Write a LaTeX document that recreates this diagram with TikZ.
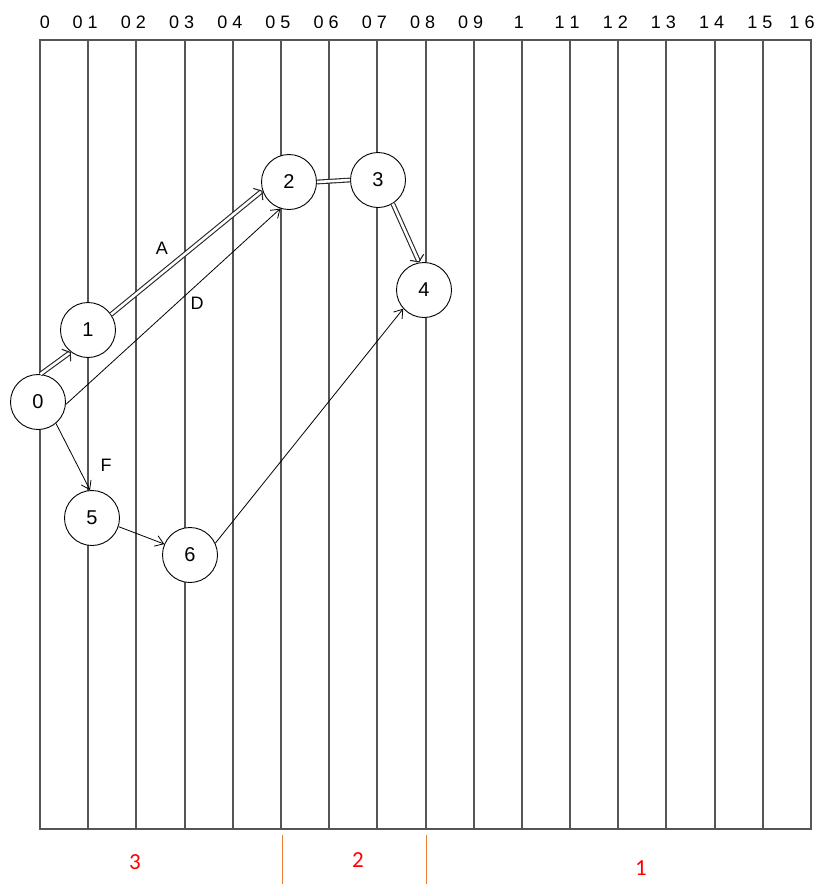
\documentclass[tikz,border=0pt]{standalone}
\usepackage{fontspec}
\setmainfont{Liberation Sans}
\newfontfamily\calib{Carlito}
\usetikzlibrary{arrows.meta}
\definecolor{gridgray}{RGB}{85,85,85}
\definecolor{offorange}{RGB}{237,125,49}
\newcommand{\hdot}{{\color{white}.}}
\begin{document}
\begin{tikzpicture}[x=1pt,y=-1pt,
  gridline/.style={draw=gridgray, line width=2pt},
  nd/.style={circle, draw=black, fill=white, minimum size=55pt, inner sep=0pt, line width=0.9pt, font=\fontsize{20}{20}\selectfont},
  sg/.style={draw=black, line width=0.8pt, -{Straight Barb[length=8pt,width=11pt]}},
  db/.style={draw=black!85, double=white, double distance=2.6pt, line width=1.1pt},
  dba/.style={db, -{Straight Barb[length=5pt,width=15pt]}},
  lbl/.style={font=\fontsize{18}{18}\selectfont},
  toplbl/.style={font=\fontsize{18}{18}\selectfont, inner sep=0pt, anchor=base},
  redlbl/.style={text=red, font=\calib\fontsize{23}{23}\selectfont},
  sep/.style={draw=offorange, line width=0.9pt}]
\useasboundingbox (0,0) rectangle (816,884);
% grid
\foreach \i in {0,...,16}{
  \pgfmathsetmacro\xx{round(40+48.19*\i)}
  \draw[gridline] (\xx,40) -- (\xx,829);
}
\draw[gridline] (39,40) -- (812,40);
\draw[gridline] (39,829) -- (812,829);
% top labels (their lower edge is cut off, as in the picture)
\begin{scope}
\clip (0,0) rectangle (816,27);
\node[toplbl] (t0) at (45,28.5) {0};
\foreach \i/\t in {1/0\hdot1,2/0\hdot2,3/0\hdot3,4/0\hdot4,5/0\hdot5,6/0\hdot6,7/0\hdot7,8/0\hdot8,9/0\hdot9,10/1,11/1\hdot1,12/1\hdot2,13/1\hdot3,14/1\hdot4,15/1\hdot5}{
  \node[toplbl] (t\i) at ({37+48.19*\i},28.5) {\t};
}
\node[toplbl] (t16) at (802,28.5) {1\hdot6};
\end{scope}
% nodes
\node[nd] (n0) at (38,402) {0};
\node[nd] (n1) at (88,330) {1};
\node[nd] (n2) at (289,182) {2};
\node[nd] (n3) at (378,180) {3};
\node[nd] (n4) at (424,290) {4};
\node[nd] (n5) at (92,518) {5};
\node[nd] (n6) at (190,555) {6};
% edges
\draw[dba] (n0.85) -- (n1.232);
\draw[dba] (n1.34) -- (n2.198);
\draw[db] (n2.0) -- (n3.180);
\draw[dba] (n3.302) -- (n4.100);
\draw[sg] (n0.-5) -- (n2.252);
\draw[sg] (n0.-50) -- (n5.94);
\draw[sg] (n5.-18) -- (n6.157);
\draw[sg] (n6.25) -- (n4.222);
% edge labels
\node[lbl] (la) at (162,248) {A};
\node[lbl] (ld) at (197,303) {D};
\node[lbl] (lf) at (106,465) {F};
% bottom separators
\coordinate (s1t) at (282,835);
\coordinate (s1b) at (282,884);
\coordinate (s2t) at (426,835);
\coordinate (s2b) at (426,884);
\draw[sep] (s1t) -- (s1b);
\draw[sep] (s2t) -- (s2b);
\node[redlbl] (r3) at (135,862) {3};
\node[redlbl] (r2) at (358,860) {2};
\node[redlbl] (r1) at (641,868) {1};
\end{tikzpicture}
\end{document}
